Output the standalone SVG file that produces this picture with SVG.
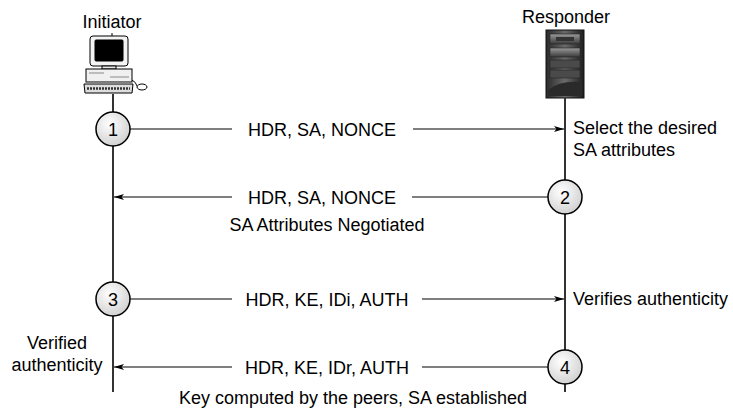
<svg xmlns="http://www.w3.org/2000/svg" width="733" height="411" viewBox="0 0 733 411">
  <defs>
    <radialGradient id="bubble" cx="0.4" cy="0.35" r="0.7">
      <stop offset="0" stop-color="#ffffff"/>
      <stop offset="1" stop-color="#cfcfcf"/>
    </radialGradient>
    <linearGradient id="towerBody" x1="0" y1="0" x2="1" y2="0">
      <stop offset="0" stop-color="#2a2a2a"/>
      <stop offset="0.5" stop-color="#6a6a6a"/>
      <stop offset="1" stop-color="#1e1e1e"/>
    </linearGradient>
    <linearGradient id="bay" x1="0" y1="0" x2="0" y2="1">
      <stop offset="0" stop-color="#9a9a9a"/>
      <stop offset="1" stop-color="#3a3a3a"/>
    </linearGradient>
    <marker id="head" viewBox="0 0 10 6" refX="10" refY="3" markerWidth="10" markerHeight="6" markerUnits="userSpaceOnUse" orient="auto">
      <path d="M0,0 L10,3 L0,6 L2.5,3 Z" fill="#000"/>
    </marker>
    <style>
      text { font-family: "Liberation Sans", Arial, sans-serif; font-size: 18px; fill: #000; }
      .mid { text-anchor: middle; }
      .life { stroke: #333; stroke-width: 2; fill: none; }
      .msg { stroke: #000; stroke-width: 1.2; fill: none; }
      .step circle { fill: url(#bubble); stroke: #000; stroke-width: 1.5; }
    </style>
  </defs>

  <!-- Initiator: desktop workstation -->
  <g id="initiator">
    <text class="mid" x="112" y="28">Initiator</text>
    <g stroke="#000" stroke-width="1">
      <!-- monitor -->
      <rect x="90" y="36" width="38" height="30" rx="3" fill="#f4f4f4"/>
      <rect x="95" y="40" width="28" height="21" rx="1" fill="#000"/>
      <rect x="102" y="66" width="14" height="3" fill="#e8e8e8"/>
      <!-- desktop case -->
      <rect x="86" y="69" width="46" height="13" fill="#f0f0f0"/>
      <line x1="89" y1="73" x2="104" y2="73" stroke="#888"/>
      <line x1="110" y1="77" x2="129" y2="77" stroke="#888"/>
      <!-- keyboard -->
      <path d="M84,84 L133,84 L132,93 L85,93 Z" fill="#ddd"/>
      <line x1="87" y1="88.5" x2="130" y2="88.5" stroke="#333" stroke-width="2.5" stroke-dasharray="2 1"/>
      <!-- mouse and cord -->
      <path d="M132,80 Q136,82 137,86" fill="none"/>
      <ellipse cx="142" cy="87" rx="5" ry="3" fill="#fff"/>
    </g>
    <line x1="112" y1="33" x2="112" y2="36" stroke="#000"/>
  </g>

  <!-- Responder: tower server -->
  <g id="responder">
    <text class="mid" x="566" y="23">Responder</text>
    <rect x="546" y="30" width="38" height="68" fill="url(#towerBody)" stroke="#111"/>
    <rect x="550" y="34" width="30" height="10" fill="url(#bay)" stroke="#222" stroke-width="0.6"/>
    <rect x="556" y="37" width="18" height="4" fill="#333"/>
    <rect x="550" y="48" width="30" height="9" fill="url(#bay)" stroke="#222" stroke-width="0.6"/>
    <rect x="550" y="60" width="30" height="8" fill="#4a4a4a" stroke="#222" stroke-width="0.6"/>
    <rect x="550" y="70" width="30" height="8" fill="#4a4a4a" stroke="#222" stroke-width="0.6"/>
    <path d="M548,90 Q560,80 582,82 L582,96 L548,96 Z" fill="#2a2a2a"/>
  </g>

  <!-- lifelines -->
  <g id="lifelines">
    <line class="life" x1="113" y1="94" x2="113" y2="392"/>
    <line class="life" x1="565" y1="98" x2="565" y2="392"/>
  </g>

  <!-- numbered steps -->
  <g id="step1" class="step"><circle cx="113" cy="129" r="17"/><text class="mid" x="113" y="135.5">1</text></g>
  <g id="step2" class="step"><circle cx="565" cy="197" r="17"/><text class="mid" x="565" y="203.5">2</text></g>
  <g id="step3" class="step"><circle cx="113" cy="299" r="17"/><text class="mid" x="113" y="305.5">3</text></g>
  <g id="step4" class="step"><circle cx="565" cy="367" r="17"/><text class="mid" x="565" y="373.5">4</text></g>

  <!-- messages -->
  <g id="connectors">
    <line class="msg" x1="130" y1="129" x2="232" y2="129"/>
    <line class="msg" x1="413" y1="129" x2="564" y2="129" marker-end="url(#head)"/>
    <line class="msg" x1="548" y1="197" x2="412" y2="197"/>
    <line class="msg" x1="232" y1="197" x2="114" y2="197" marker-end="url(#head)"/>
    <line class="msg" x1="130" y1="299" x2="232" y2="299"/>
    <line class="msg" x1="422" y1="299" x2="564" y2="299" marker-end="url(#head)"/>
    <line class="msg" x1="548" y1="367" x2="422" y2="367"/>
    <line class="msg" x1="232" y1="367" x2="114" y2="367" marker-end="url(#head)"/>
  </g>

  <!-- message labels -->
  <g id="labels">
    <text class="mid" x="322" y="135.5">HDR, SA, NONCE</text>
    <text class="mid" x="322" y="203.5">HDR, SA, NONCE</text>
    <text class="mid" x="327" y="231">SA Attributes Negotiated</text>
    <text class="mid" x="327" y="305.5">HDR, KE, IDi, AUTH</text>
    <text class="mid" x="327" y="373.5">HDR, KE, IDr, AUTH</text>
    <text class="mid" x="353" y="404">Key computed by the peers, SA established</text>
  </g>

  <!-- notes beside lifelines -->
  <g id="notes">
    <text x="573" y="134">Select the desired</text>
    <text x="573" y="156">SA attributes</text>
    <text x="573" y="305">Verifies authenticity</text>
    <text class="mid" x="57" y="349">Verified</text>
    <text class="mid" x="57" y="371">authenticity</text>
  </g>
</svg>
